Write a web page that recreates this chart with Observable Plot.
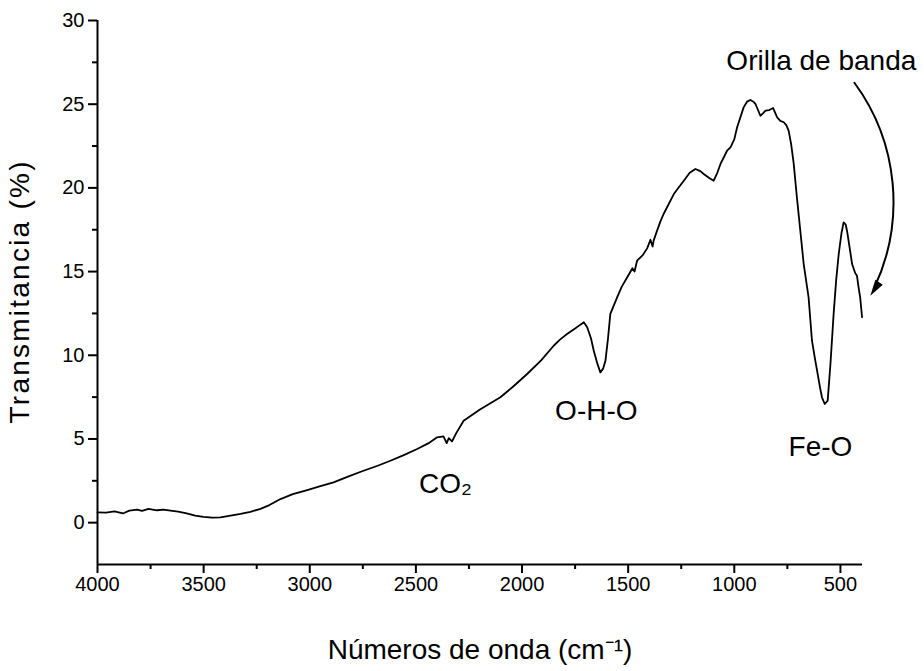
<!DOCTYPE html>
<html><head><meta charset="utf-8">
<script src="https://cdn.jsdelivr.net/npm/d3@7"></script>
<script src="https://cdn.jsdelivr.net/npm/@observablehq/plot@0.6"></script>
<style>
body{margin:0;background:#fff;}
svg{font-family:"Liberation Sans",Arial,Helvetica,sans-serif;}
</style>
</head><body><div id="chart"></div>
<script>
// FTIR spectrum: wavenumber (cm^-1) and transmittance (%)
const wavenumber = [4000,3960,3920,3880,3850,3813,3790,3760,3720,3690,3656,3620,3580,3540,3501,3460,3421,3380,3326,3280,3232,3190,3138,3080,3012,2950,2888,2820,2747,2680,2620,2560,2494,2440,2400,2370,2355,2345,2330,2310,2275,2200,2102,2040,1976,1910,1851,1820,1788,1750,1725,1709,1693,1675,1662,1645,1631,1618,1607,1595,1584,1552,1530,1505,1480,1470,1458,1430,1410,1395,1385,1380,1365,1348,1333,1285,1238,1210,1183,1160,1144,1120,1097,1080,1065,1034,1018,1000,987,956,940,924,910,900,877,865,853,835,817,798,783,767,755,744,732,720,705,689,673,650,634,620,610,595,587,574,560,547,532,520,508,495,485,475,469,455,445,430,422,415,407,398];
const transmittance = [0.62,0.60,0.68,0.55,0.72,0.78,0.70,0.82,0.74,0.78,0.72,0.66,0.56,0.42,0.34,0.30,0.32,0.40,0.52,0.65,0.82,1.05,1.41,1.70,1.95,2.18,2.41,2.75,3.10,3.40,3.70,4.02,4.40,4.75,5.10,5.16,4.75,5.05,4.85,5.35,6.09,6.75,7.49,8.15,8.88,9.70,10.57,10.95,11.27,11.60,11.83,11.97,11.67,11.0,10.27,9.5,8.98,9.2,9.68,11.0,12.47,13.46,14.1,14.65,15.2,15.0,15.65,16.0,16.4,16.9,16.5,16.85,17.4,18.0,18.44,19.63,20.43,20.9,21.13,21.0,20.83,20.6,20.43,20.9,21.43,22.22,22.42,22.9,23.61,24.81,25.15,25.25,25.15,25.01,24.31,24.45,24.61,24.65,24.77,24.21,24.0,23.92,23.75,23.42,22.6,21.43,19.43,17.44,15.45,13.46,10.87,9.8,9.08,8.0,7.49,7.09,7.29,9.48,12.47,14.5,16.05,17.3,17.94,17.8,17.44,16.3,15.45,14.9,14.75,14.1,13.46,12.27];

const xTicks = [4000,3500,3000,2500,2000,1500,1000,500];
const xTickLabels = ["4000","3500","3000","2500","2000","1500","1000","500"];
const xMinorTicks = [3750,3250,2750,2250,1750,1250,750];
const yTicks = [0,5,10,15,20,25,30];
const yMinorTicks = [2.5,7.5,12.5,17.5,22.5,27.5];

const annotationText = ["CO₂","O-H-O","Fe-O","Orilla de banda"];
const annotationX = [2361,1650,594,590];
const annotationY = [2.33,6.69,4.5,27.6];

const yTitle = "Transmitancia (%)";
const xTitle = "Números de onda (cm⁻¹)";

// arrow from the "Orilla de banda" label to the band edge
const arrowFrom = [434, 26.28];
const arrowTo = [359, 13.56];

const spectrum = wavenumber.map((w, i) => ({w, t: transmittance[i]}));
const notes = annotationText.map((s, i) => ({s, x: annotationX[i], y: annotationY[i]}));

const arrowHead = {
  draw(context, size) {
    const s = Math.sqrt(size);
    context.moveTo(0, 0);
    context.lineTo(-0.28 * s, s);
    context.lineTo(0.28 * s, s);
    context.closePath();
  }
};

const chart = Plot.plot({
  width: 924,
  height: 671,
  marginLeft: 97,
  marginRight: 62,
  marginTop: 20,
  marginBottom: 107,
  style: {background: "#fff", color: "#000", fontFamily: "'Liberation Sans', Arial, sans-serif"},
  x: {domain: [4000, 396]},
  y: {domain: [-2.5, 30]},
  marks: [
    Plot.ruleX([4000], {y1: -2.5, y2: 30, strokeWidth: 2}),
    Plot.ruleY([-2.5], {x1: 4000, x2: 396, strokeWidth: 2}),
    Plot.axisY(yTicks, {tickSize: 9, tickPadding: 4, fontSize: 20, strokeWidth: 2, label: null}),
    Plot.axisY(yMinorTicks, {tickSize: 5, tickFormat: () => "", strokeWidth: 2, label: null}),
    Plot.axisX(xTicks, {tickSize: 9, tickPadding: 3, fontSize: 20, strokeWidth: 2, label: null,
      tickFormat: (d) => xTickLabels[xTicks.indexOf(d)]}),
    Plot.axisX(xMinorTicks, {tickSize: 5, tickFormat: () => "", strokeWidth: 2, label: null}),
    Plot.line(spectrum, {x: "w", y: "t", stroke: "#000", strokeWidth: 1.8, strokeLinejoin: "round"}),
    Plot.text(notes, {x: "x", y: "y", text: "s", fontSize: 28, textAnchor: "middle", lineAnchor: "middle"}),
    Plot.arrow([0], {x1: () => arrowFrom[0], y1: () => arrowFrom[1], x2: () => arrowTo[0], y2: () => arrowTo[1],
      bend: 32, headLength: 0, insetEnd: 8, strokeWidth: 2, stroke: "#000"}),
    Plot.dot([0], {x: () => arrowTo[0], y: () => arrowTo[1], symbol: arrowHead, r: 9, fill: "#000", stroke: "none", rotate: 213}),
    Plot.text([yTitle], {frameAnchor: "left", dx: -77, rotate: -90, fontSize: 28, textAnchor: "middle", lineAnchor: "middle"}),
    Plot.text([xTitle], {frameAnchor: "bottom", dy: 86, fontSize: 28, textAnchor: "middle", lineAnchor: "middle"})
  ]
});
// lengthen the vertical title slightly toward the reference's run length
d3.select(chart).selectAll("text").each(function () {
  if (this.textContent === yTitle) d3.select(this).attr("textLength", 262).attr("lengthAdjust", "spacing");
});
document.getElementById("chart").appendChild(chart);
</script>
</body></html>
